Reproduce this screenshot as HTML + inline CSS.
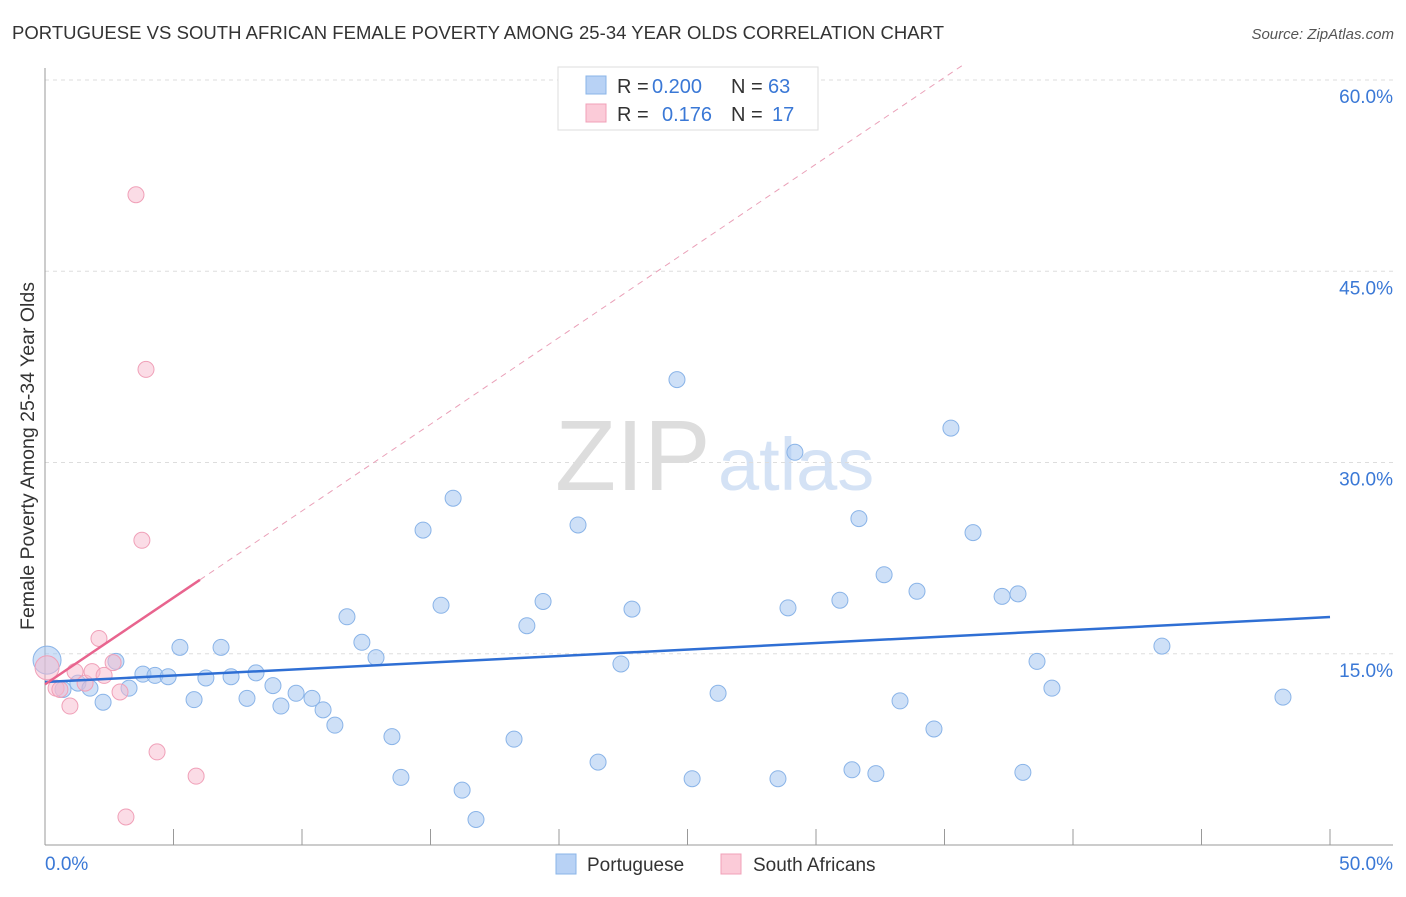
<!DOCTYPE html>
<html><head><meta charset="utf-8"><style>
body{margin:0;background:#fff;font-family:"Liberation Sans",sans-serif;}
svg text{font-family:"Liberation Sans",sans-serif;}
</style></head><body>
<svg id="c" width="1406" height="892" xmlns="http://www.w3.org/2000/svg">
<text x="12" y="39" font-size="18.5" fill="#333" textLength="932">PORTUGUESE VS SOUTH AFRICAN FEMALE POVERTY AMONG 25-34 YEAR OLDS CORRELATION CHART</text>
<text x="1394" y="39" font-size="15" fill="#555" text-anchor="end" font-style="italic">Source: ZipAtlas.com</text>
<text x="555" y="490" font-size="100" fill="#ddd" font-family="Liberation Serif">ZIP</text>
<text x="718" y="490" font-size="74" fill="#d4e2f5">atlas</text>
<text transform="translate(34,456) rotate(-90)" font-size="19.5" fill="#333" text-anchor="middle">Female Poverty Among 25-34 Year Olds</text>
<g id="grid"></g><g id="marks"></g>
<g>
<rect x="558" y="67" width="260" height="63" fill="#fff" stroke="#ddd"/>
<rect x="586" y="76" width="20" height="18" fill="#b8d2f5" stroke="#8ab4e8"/>
<text x="617" y="93" font-size="20" fill="#333">R =</text>
<text x="652" y="93" font-size="20" fill="#3a78d6">0.200</text>
<text x="731" y="93" font-size="20" fill="#333">N =</text>
<text x="768" y="93" font-size="20" fill="#3a78d6">63</text>
<rect x="586" y="104" width="20" height="18" fill="#fbcbd8" stroke="#f0a0b8"/>
<text x="617" y="121" font-size="20" fill="#333">R =</text>
<text x="662" y="121" font-size="20" fill="#3a78d6">0.176</text>
<text x="731" y="121" font-size="20" fill="#333">N =</text>
<text x="772" y="121" font-size="20" fill="#3a78d6">17</text>
</g>
<g>
<rect x="556" y="854" width="20" height="20" fill="#b8d2f5" stroke="#8ab4e8"/>
<text x="587" y="871" font-size="19" fill="#333">Portuguese</text>
<rect x="721" y="854" width="20" height="20" fill="#fbcbd8" stroke="#f0a0b8"/>
<text x="753" y="871" font-size="19" fill="#333">South Africans</text>
</g>
</svg>
<script>
const blueX=[0.08,0.70,1.28,1.75,2.26,2.76,3.27,3.81,4.28,4.79,5.25,5.80,6.26,6.85,7.24,7.86,8.21,8.87,9.18,9.77,10.39,10.82,11.28,11.75,12.33,12.88,13.50,13.85,14.71,15.41,15.88,16.23,16.77,18.25,18.75,19.38,20.74,21.52,22.41,22.84,24.59,25.18,26.19,28.52,28.91,29.18,30.93,31.40,31.67,32.33,32.65,33.27,33.93,34.59,35.25,36.11,37.24,37.86,38.05,38.60,39.18,43.46,48.17];
const blueY=[14.5,12.2,12.7,12.3,11.2,14.4,12.3,13.4,13.3,13.2,15.5,11.4,13.1,15.5,13.2,11.5,13.5,12.5,10.9,11.9,11.5,10.6,9.4,17.9,15.9,14.7,8.5,5.3,24.7,18.8,27.2,4.3,2.0,8.3,17.2,19.1,25.1,6.5,14.2,18.5,36.5,5.2,11.9,5.2,18.6,30.8,19.2,5.9,25.6,5.6,21.2,11.3,19.9,9.1,32.7,24.5,19.5,19.7,5.7,14.4,12.3,15.6,11.6];
const pinkX=[0.08,0.43,0.58,0.97,1.17,1.56,1.83,2.10,2.30,2.65,2.92,3.15,3.54,3.77,3.93,4.36,5.88];
const pinkY=[13.9,12.3,12.2,10.9,13.6,12.7,13.6,16.2,13.3,14.3,12.0,2.2,51.0,23.9,37.3,7.3,5.4];
const blueTrend=[12.78,17.88];
const pinkTrend=[12.6,1.36];
const yTicks=[15,30,45,60];
const X=v=>45+v*25.7, Y=v=>845-v*12.75;
const NS="http://www.w3.org/2000/svg";
function mk(t,a,p){const e=document.createElementNS(NS,t);for(const k in a)e.setAttribute(k,a[k]);p.appendChild(e);return e;}
const g=document.getElementById('grid'), m=document.getElementById('marks');
yTicks.forEach(t=>{const l=mk('line',{x1:45,x2:1393,y1:Y(t),y2:Y(t),stroke:'#ddd','stroke-dasharray':'4,4'},g);


const tx=mk('text',{x:1393,y:Y(t)+23,'font-size':19,fill:'#3a78d6','text-anchor':'end'},g);tx.textContent=t.toFixed(1)+'%';

});
mk('line',{x1:45,x2:45,y1:68,y2:845,stroke:'#999'},g);
mk('line',{x1:45,x2:1393,y1:845,y2:845,stroke:'#999'},g);
for(let i=0;i<=10;i++){const t=mk('line',{x1:X(i*5),x2:X(i*5),y1:829,y2:845,stroke:'#999'},g);

}
const a=mk('text',{x:45,y:870,'font-size':19,fill:'#3a78d6'},g);a.textContent='0.0%';


const b=mk('text',{x:1393,y:870,'font-size':19,fill:'#3a78d6','text-anchor':'end'},g);b.textContent='50.0%';


blueX.forEach((x,i)=>{const c=mk('circle',{cx:X(x),cy:Y(blueY[i]),r:i==0?14:8,fill:'rgba(165,198,240,0.55)',stroke:'#8ab4e8'},m);

});
pinkX.forEach((x,i)=>{const c=mk('circle',{cx:X(x),cy:Y(pinkY[i]),r:i==0?12:8,fill:'rgba(248,185,205,0.5)',stroke:'#f0a0b8'},m);

});
const bl=mk('line',{x1:X(0),y1:Y(blueTrend[0]),x2:X(50),y2:Y(blueTrend[1]),stroke:'#2f6fd4','stroke-width':2.5},m);


const pe=6.03, pd=35.8;
const pl=mk('line',{x1:X(0),y1:Y(pinkTrend[0]),x2:X(pe),y2:Y(pinkTrend[0]+pinkTrend[1]*pe),stroke:'#e8648e','stroke-width':2.5},m);


const pdl=mk('line',{x1:X(pe),y1:Y(pinkTrend[0]+pinkTrend[1]*pe),x2:X(pd),y2:Y(pinkTrend[0]+pinkTrend[1]*pd),stroke:'#eaa0b8','stroke-width':1,'stroke-dasharray':'6,5'},m);


</script>
</body></html>
